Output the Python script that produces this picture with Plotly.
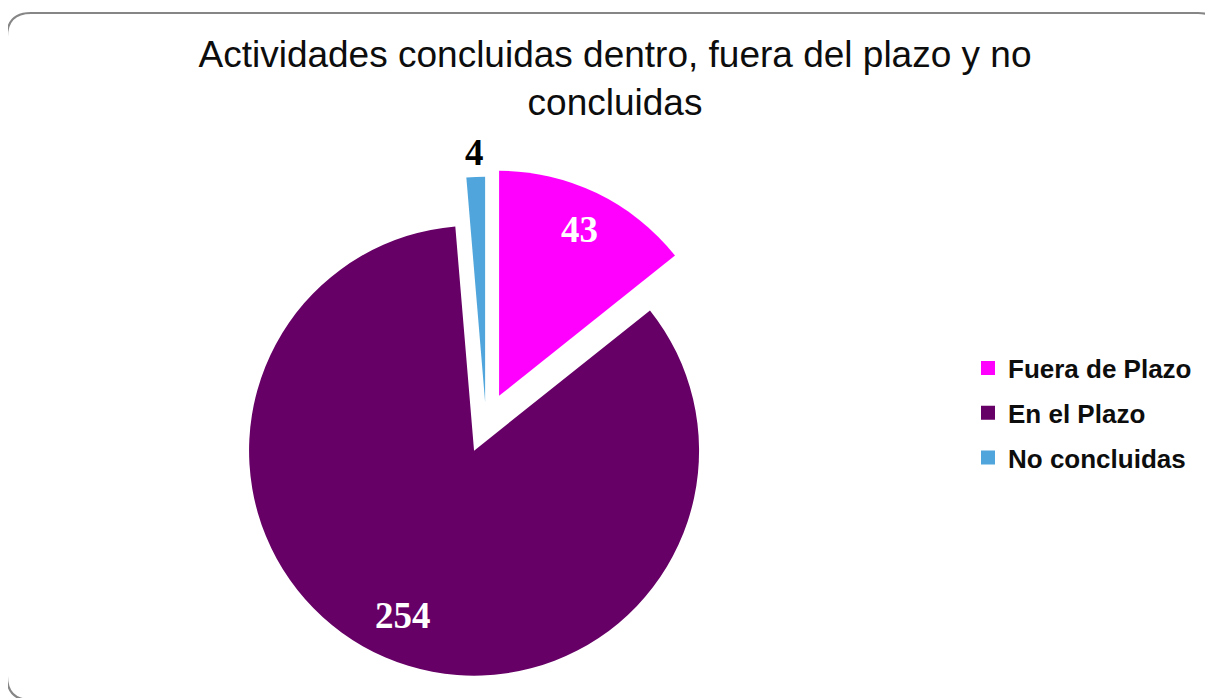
import math

import plotly.graph_objects as go

# Chart data
labels = ["Fuera de Plazo", "En el Plazo", "No concluidas"]
values = [43, 254, 4]
colors = ["#FF00FF", "#660066", "#50A6DC"]
label_colors = ["white", "white", "black"]
pulls = [0.134, 0.134, 0.095]

title_text = "Actividades concluidas dentro, fuera del plazo y no<br>concluidas"

# Figure / page geometry (the page body adds an 8px offset)
W, H = 1213, 698
OFF = 8
PLOT_W, PLOT_H = W, H

# Pie placement in page pixels
CX, CY, R = 486, 423, 225
LABEL_RADIUS = [0.82, 0.80, 1.11]


def to_paper(x, y):
    """Page pixel -> paper coordinates."""
    return (x - OFF) / PLOT_W, 1 - (y - OFF) / PLOT_H


def rounded_rect(x0, y0, x1, y1, r):
    pts = [
        ("M", [(x0 + r, y0)]),
        ("L", [(x1 - r, y0)]),
        ("Q", [(x1, y0), (x1, y0 + r)]),
        ("L", [(x1, y1 - r)]),
        ("Q", [(x1, y1), (x1 - r, y1)]),
        ("L", [(x0 + r, y1)]),
        ("Q", [(x0, y1), (x0, y1 - r)]),
        ("L", [(x0, y0 + r)]),
        ("Q", [(x0, y0), (x0 + r, y0)]),
    ]
    path = ""
    for cmd, coords in pts:
        path += cmd + " ".join("%.5f,%.5f" % to_paper(cx, cy) for cx, cy in coords) + " "
    return path + "Z"


# pie domain so that plotly's radius (box / (1 + max pull)) comes out as R
half_box = R * (1 + max(pulls))
dx0, dy1 = to_paper(CX - half_box, CY - half_box)
dx1, dy0 = to_paper(CX + half_box, CY + half_box)

fig = go.Figure()

fig.add_trace(
    go.Pie(
        labels=labels,
        values=values,
        sort=False,
        direction="clockwise",
        rotation=0,
        pull=pulls,
        marker=dict(colors=colors, line=dict(width=0)),
        textinfo="none",
        domain=dict(x=[dx0, dx1], y=[dy0, dy1]),
        showlegend=False,
        hoverinfo="label+value+percent",
    )
)

# legend entries (separate groups so the entries can be spaced like the original)
for lab, col in zip(labels, colors):
    fig.add_trace(
        go.Scatter(
            x=[None],
            y=[None],
            mode="markers",
            name=lab,
            legendgroup=lab,
            marker=dict(symbol="square", size=14, color=col),
        )
    )

# value labels, placed along each slice's mid angle
annotations = []
total = sum(values)
start = 0.0
for val, pull, col, k in zip(values, pulls, label_colors, LABEL_RADIUS):
    sweep = val / total * 2 * math.pi
    mid = start + sweep / 2
    sx = CX + pull * R * math.sin(mid)
    sy = CY - pull * R * math.cos(mid)
    lx = sx + k * R * math.sin(mid)
    ly = sy - k * R * math.cos(mid)
    ax, ay = to_paper(lx, ly)
    annotations.append(
        dict(
            x=ax,
            y=ay,
            xref="paper",
            yref="paper",
            text="<b>%d</b>" % val,
            showarrow=False,
            xanchor="center",
            yanchor="middle",
            font=dict(family="Liberation Serif", size=37, color=col),
        )
    )
    start += sweep

fig.update_layout(
    width=W,
    height=H,
    margin=dict(l=0, r=0, t=0, b=0, autoexpand=False),
    paper_bgcolor="white",
    plot_bgcolor="white",
    xaxis=dict(visible=False),
    yaxis=dict(visible=False),
    title=dict(
        text=title_text,
        x=(615 - OFF) / W,
        xanchor="center",
        y=1 - (67 - OFF) / H,
        yanchor="top",
        font=dict(family="Liberation Sans, Arial", size=37, color="#0d0d0d"),
    ),
    legend=dict(
        x=(968 - OFF) / PLOT_W,
        xanchor="left",
        y=to_paper(0, 413)[1],
        yanchor="middle",
        tracegroupgap=8,
        font=dict(family="Liberation Sans, Arial", size=26, color="#0d0d0d", weight="bold"),
        bgcolor="rgba(0,0,0,0)",
    ),
    annotations=annotations,
    shapes=[
        dict(
            type="path",
            xref="paper",
            yref="paper",
            path=rounded_rect(7, 13, 1222, 700, 24),
            line=dict(color="#868686", width=2),
            fillcolor="rgba(0,0,0,0)",
            layer="below",
        )
    ],
)

fig.write_html("out.html")
